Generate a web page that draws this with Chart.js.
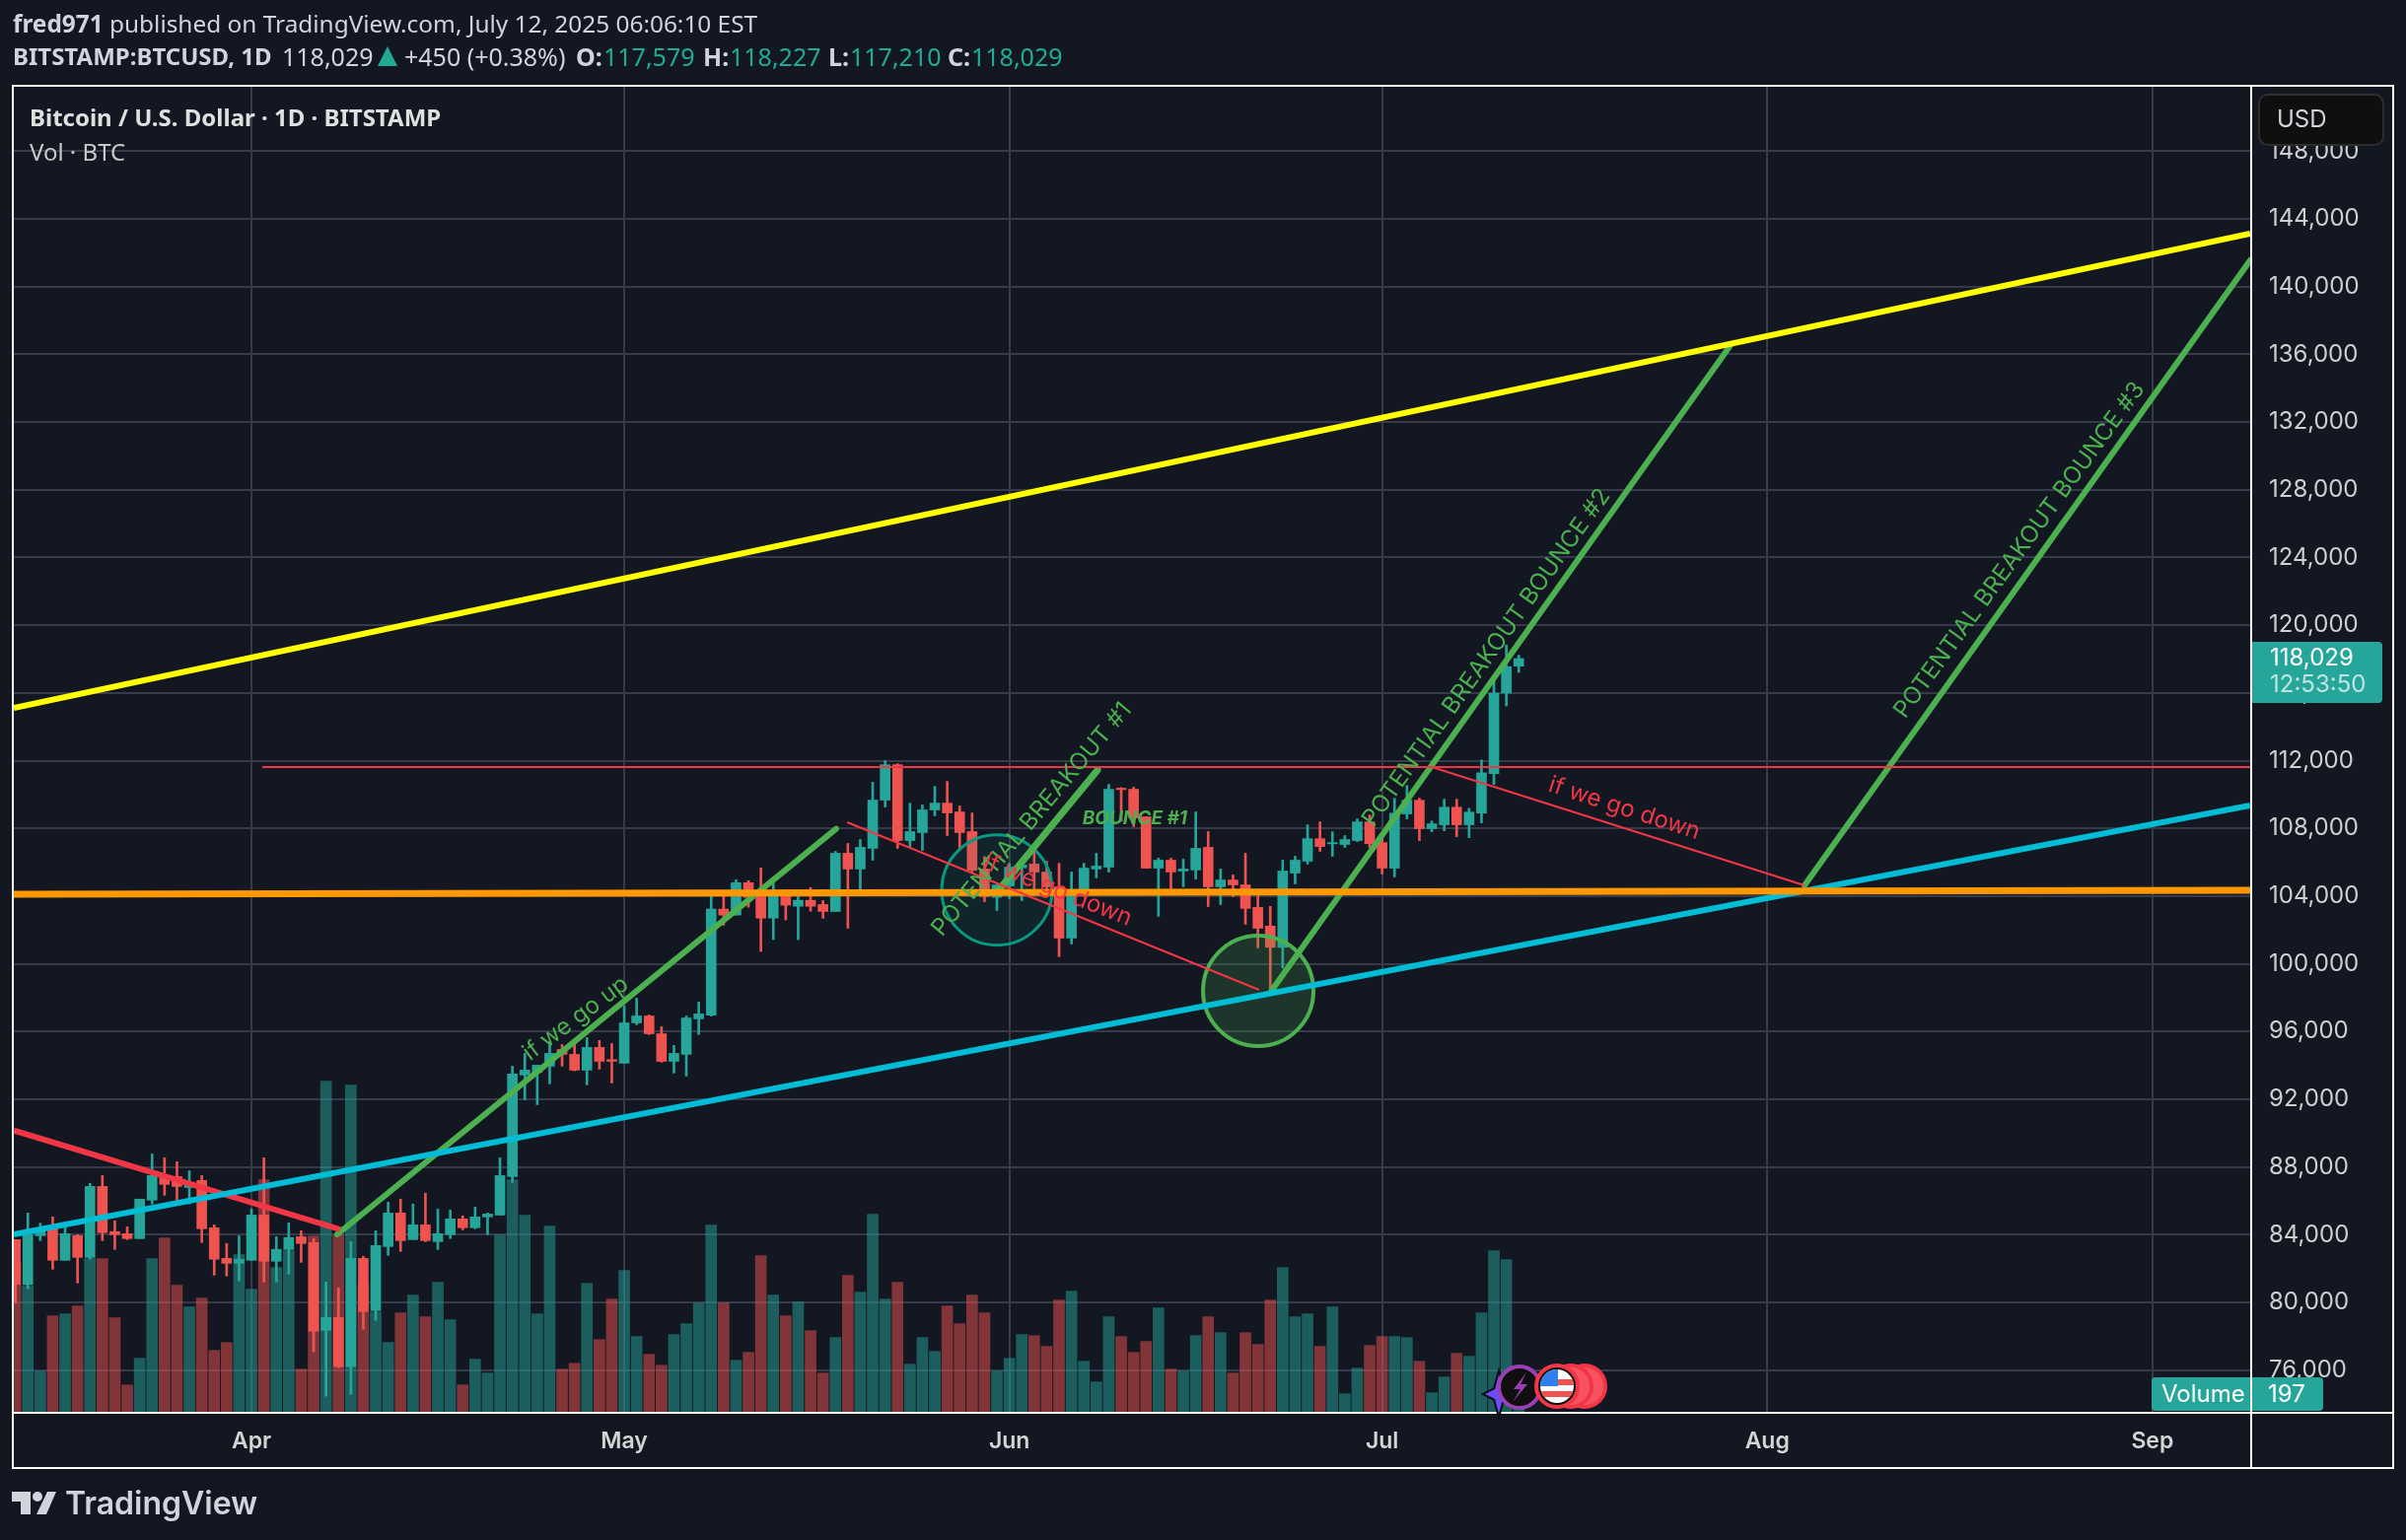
<!DOCTYPE html>
<html>
<head>
<meta charset="utf-8">
<title>BTCUSD</title>
<script src="https://cdn.jsdelivr.net/npm/chart.js@4/dist/chart.umd.min.js"></script>
<style>
  html, body { margin: 0; padding: 0; background: #131722; }
  body { position: relative; width: 2440px; height: 1562px; overflow: hidden; font-family: "Noto Sans", sans-serif; color: #d1d4dc; }
  canvas { position: absolute; left: 0; top: 0; }
  .t { position: absolute; white-space: nowrap; line-height: 1; }
  .b { font-weight: 700; }
  .g { color: #22ab94; }
  .n { font-size: 25px; top: 45px; }
  svg { position: absolute; left: 0; top: 0; }
  .box { position: absolute; box-sizing: border-box; }
  .i { font-family: Inter, sans-serif; }
</style>
</head>
<body>
<canvas id="chart" width="2440" height="1562"></canvas>
<svg width="2440" height="1562" viewBox="0 0 2440 1562">
  <polygon points="1520,1394 1524,1409 1534,1414 1524,1419 1520,1434 1516,1419 1506,1414 1516,1409" fill="#6a4cff" stroke="#0d0d0d" stroke-width="4" paint-order="stroke"/>
  <ellipse cx="1541" cy="1407" rx="21" ry="21" fill="#0f0f0f" stroke="#9c3fb5" stroke-width="4"/>
  <polygon points="1548,1392 1535,1409 1542,1409 1534,1422 1549,1404 1542,1404" fill="#9c3fb5"/>
  <g>
    <circle cx="1607" cy="1406" r="21" fill="#f7525f" stroke="#f23645" stroke-width="4"/>
    <circle cx="1593" cy="1406" r="21" fill="#f7525f" stroke="#f23645" stroke-width="4"/>
    <circle cx="1579" cy="1406" r="21" fill="#0f0f0f" stroke="#f23645" stroke-width="4"/>
    <clipPath id="flag"><circle cx="1579" cy="1406" r="17"/></clipPath>
    <g clip-path="url(#flag)">
      <rect x="1560" y="1388" width="40" height="36" fill="#ffffff"/>
      <rect x="1560" y="1399" width="40" height="6" fill="#ef5350"/>
      <rect x="1560" y="1411" width="40" height="6" fill="#ef5350"/>
      <rect x="1560" y="1388" width="20" height="18" fill="#2f80ed"/>
    </g>
  </g>
  <g fill="#d1d4dc">
    <polygon points="12,1513 31,1513 31,1536 21,1536 21,1523 12,1523"/>
    <circle cx="38" cy="1518" r="5"/>
    <polygon points="48,1513 57,1513 47,1536 37,1536"/>
  </g>
  <polygon points="393,47 403,67 383,67" fill="#22ab94"/>
</svg>

<div class="t" style="left:13px;top:12px;font-size:24.4px"><span class="b">fred971</span> published on TradingView.com, July 12, 2025 06:06:10 EST</div>
<div class="t b" style="left:13px;top:45px;font-size:24px">BITSTAMP:BTCUSD, 1D</div>
<div class="t n" style="left:286px">118,029</div>
<div class="t n" style="left:410px">+450 (+0.38%)</div>
<div class="t n b" style="left:584px">O:</div>
<div class="t n g" style="left:612px">117,579</div>
<div class="t n b" style="left:713px">H:</div>
<div class="t n g" style="left:740px">118,227</div>
<div class="t n b" style="left:840px">L:</div>
<div class="t n g" style="left:862px">117,210</div>
<div class="t n b" style="left:961px">C:</div>
<div class="t n g" style="left:985px">118,029</div>
<div class="t b" style="left:30px;top:107px;font-size:24px;color:#e0e0e0">Bitcoin / U.S. Dollar · 1D · BITSTAMP</div>
<div class="t" style="left:30px;top:142px;font-size:24px;color:#c8c8c8">Vol · BTC</div>

<div class="box" style="left:2290px;top:95px;width:128px;height:53px;background:#0f0f0f;border:2px solid #2e2e2e;border-radius:10px"></div>
<div class="t i" style="left:2309px;top:109px;font-size:24px;color:#d1d4dc">USD</div>

<div class="box" style="left:2284px;top:651px;width:132px;height:62px;background:#26a69a;border-radius:0 4px 4px 0"></div>
<div class="t i" style="left:2302px;top:655px;font-size:24px;color:#ffffff">118,029</div>
<div class="t i" style="left:2302px;top:682px;font-size:24px;color:rgba(255,255,255,.7)">12:53:50</div>

<div class="box" style="left:2182px;top:1397px;width:174px;height:34px;background:#26a69a;border-radius:4px"></div>
<div class="box" style="left:2282px;top:1397px;width:2px;height:34px;background:#ffffff"></div>
<div class="t i" style="left:2192px;top:1402px;font-size:24px;color:#ffffff">Volume</div>
<div class="t i" style="left:2300px;top:1402px;font-size:24px;color:#ffffff">197</div>

<div class="t i" style="left:66px;top:1509px;font-size:32px;font-weight:600;color:#d1d4dc">TradingView</div>

<script>
// Bitcoin daily candles, day 0 = Apr 1 2025
const FIRST_DAY = -19;

const OPEN = [
  83710, 81050, 83940, 84350, 82490, 83940, 82660, 86850, 84180, 84060, 83770, 86040, 87380, 87430, 86790, 87200, 84410, 82600, 82310,
  82490, 85160, 82430, 83130, 83880, 83540, 78350, 79110, 76200, 82600, 79520, 83300, 85280, 83710, 84580, 83590, 84000, 84930, 84410, 85050, 85160,
  87430, 93430, 93580, 93950, 94940, 94650, 93720, 95060, 94340, 94130, 96510, 96920, 95870, 94240, 94650, 96750, 96970, 103230, 102880, 104790,
  104020, 102700, 104210, 103400, 103750, 103500, 103090, 106530, 105600, 106820, 109670, 111760, 107280, 107750, 109090, 109490, 108970, 107810, 105600, 103930,
  104600, 105670, 105890, 105420, 104550, 101520, 104160, 105600, 105710, 110370, 110310, 108680, 105650, 106120, 105480, 105540, 106880, 104550, 104950, 104660,
  103330, 102230, 100970, 105360, 106060, 107390, 107090, 107050, 107280, 108380, 107160, 105650, 108850, 109660, 107980, 108210, 109250, 108210, 108900, 111230, 115990, 117579
];
const HIGH = [
  83710, 85280, 84680, 85050, 84470, 84000, 87030, 87490, 84820, 84470, 86100, 88770, 88540, 88310, 87780, 87490, 84580, 83480, 83940,
  85510, 88540, 83880, 84700, 84230, 83770, 81210, 80860, 83590, 82720, 84230, 85920, 86100, 85810, 86450, 85510, 85460, 85110, 85630, 85280, 88540,
  93950, 94710, 94010, 95430, 95230, 95230, 95640, 95470, 95290, 97520, 97970, 96980, 96280, 95180, 96920, 97740, 104310, 104120, 104970, 104910,
  105660, 104790, 104310, 104120, 104500, 103730, 106640, 107110, 107340, 110720, 112000, 111820, 109490, 109380, 110480, 110770, 109320, 108910, 106330, 104660,
  105940, 105830, 106640, 106060, 105940, 105420, 105940, 106530, 110600, 110410, 110430, 108680, 106240, 106240, 106180, 108970, 107810, 105600, 105250, 106530,
  104020, 103390, 106120, 106350, 108210, 108380, 107800, 107570, 108560, 108790, 107450, 109780, 110530, 109780, 108440, 109720, 109720, 109190, 112040, 116740, 118830, 118227
];
const LOW = [
  79950, 80820, 83650, 81960, 82490, 81150, 82550, 83650, 83130, 83710, 83770, 85810, 86330, 86040, 85810, 83540, 81610, 81560, 81270,
  82490, 81210, 81210, 81670, 82370, 77080, 74460, 76140, 74570, 78410, 78940, 82780, 83010, 83710, 83590, 83130, 83770, 84290, 84350, 84000, 85160,
  87090, 91970, 91680, 92910, 93950, 93680, 92850, 93780, 92960, 94130, 96400, 95820, 94190, 93550, 93370, 95820, 96910, 102280, 102880, 103340,
  100730, 101430, 102590, 101430, 103110, 102690, 103090, 102100, 104310, 106120, 109260, 106820, 106930, 106700, 108740, 107570, 106820, 105420, 103670, 103150,
  103850, 103730, 104260, 103970, 100420, 101170, 104060, 105070, 105420, 108430, 108100, 105650, 102800, 104410, 104550, 105010, 103380, 103500, 103970, 102340,
  100940, 98360, 99750, 104720, 105890, 106640, 106350, 106870, 107220, 106870, 105300, 105130, 108560, 107280, 107800, 107860, 107510, 107450, 108320, 110590, 115230, 117210
];
const CLOSE = [
  81070, 84000, 84270, 82490, 84060, 82660, 86850, 84120, 84000, 83770, 86100, 87490, 86970, 86850, 87090, 84350, 82550, 82310, 82550,
  85160, 82430, 83130, 83830, 83480, 78300, 79110, 76200, 82600, 79460, 83360, 85280, 83650, 84580, 83650, 84060, 84930, 84410, 85050, 85220, 87490,
  93490, 93720, 94010, 94710, 94650, 93720, 95060, 94240, 94240, 96510, 96920, 95870, 94240, 94710, 96800, 97040, 103230, 102880, 104790, 103920,
  102700, 104310, 103460, 103750, 103400, 103090, 106530, 105600, 106880, 109670, 111760, 107280, 107810, 109090, 109490, 108910, 107750, 105520, 103970, 104660,
  105710, 105830, 105420, 104550, 101520, 104310, 105650, 105770, 110310, 110290, 108620, 105650, 106120, 105420, 105600, 106820, 104550, 104950, 104660, 103270,
  102100, 100970, 105480, 106120, 107390, 106930, 107160, 107340, 108380, 107100, 105650, 108900, 109660, 107980, 108270, 109250, 108210, 108960, 111280, 115990, 117550, 118029
];
const VOLUME = [
  2270, 1910, 620, 1460, 1490, 1610, 2330, 2330, 1430, 410, 815, 2330, 2645, 1925, 1595, 1730, 935, 1055, 2390,
  1865, 3530, 2195, 2450, 650, 2675, 5030, 2695, 4970, 1940, 1520, 1055, 1505, 1775, 1445, 1970, 1400, 410, 800, 590, 2690,
  3530, 2990, 1490, 2825, 650, 740, 1955, 1100, 1715, 2150, 1145, 875, 710, 1175, 1340, 1655, 2840, 1655, 785, 905,
  2375, 1775, 1460, 1670, 1235, 590, 1130, 2075, 1820, 3005, 1715, 1970, 725, 1130, 920, 1610, 1340, 1775, 1505, 620,
  815, 1175, 1160, 995, 1700, 1835, 770, 455, 1445, 1145, 905, 1070, 1580, 650, 620, 1160, 1445, 1205, 590, 1205,
  1025, 1700, 2195, 1445, 1490, 995, 1595, 275, 665, 1010, 1145, 1145, 1130, 770, 290, 530, 890, 845, 1505, 2450, 2315, 197
];

const PRICE_TICKS = [76000, 80000, 84000, 88000, 92000, 96000, 100000, 104000, 108000, 112000, 116000, 120000, 124000, 128000, 132000, 136000, 140000, 144000, 148000];
const MONTH_DAYS = [0, 30, 61, 91, 122, 153];
const MONTH_LABELS = ['Apr', 'May', 'Jun', 'Jul', 'Aug', 'Sep'];

// drawings, [day, price]
const YELLOW_LINE = [[-19.13, 115116], [160.87, 143127]];
const CYAN_LINE = [[-19.13, 84019], [160.87, 109351]];
const ORANGE_LINE = [[-19.13, 104110], [160.87, 104343]];
const RED_THICK_LINE = [[-19.13, 90151], [7.14, 84310]];
const RED_LEVEL = [[0.87, 111622], [160.87, 111622]];
const RED_DOWN_1 = [[47.94, 108360], [81.1, 98461]];
const RED_DOWN_2 = [[95, 111622], [125, 104634]];
const GREEN_UP = [[6.9, 84019], [47.06, 107971]];
const GREEN_BREAKOUT_1 = [[59.98, 104209], [68.1, 111447]];
const GREEN_BREAKOUT_2 = [[81.98, 98286], [119.05, 136546]];
const GREEN_BREAKOUT_3 = [[125, 104634], [160.87, 141554]];
const TEAL_CIRCLE = [[60, 104360]];
const GREEN_CIRCLE = [[81.03, 98403]];

const UP = '#26a69a';
const DOWN = '#ef5350';
const UP_VOL = 'rgba(38,166,154,0.5)';
const DOWN_VOL = 'rgba(239,83,80,0.5)';
const GREEN = '#4caf50';
const RED = '#f23645';
const GRID = '#363a4b';
const TICK_FONT = 'Inter, sans-serif';

const days = OPEN.map((_, i) => FIRST_DAY + i);
const candleColors = OPEN.map((o, i) => (CLOSE[i] >= o ? UP : DOWN));
const volumeColors = OPEN.map((o, i) => (CLOSE[i] >= o ? UP_VOL : DOWN_VOL));

function trendLine(points, color, width, cap) {
  return {
    type: 'line',
    data: points.map(([x, y]) => ({ x, y })),
    borderColor: color,
    borderWidth: width,
    borderCapStyle: cap || 'butt',
    pointRadius: 0,
    order: 1
  };
}

function circleMark(points, stroke, fill, width) {
  return {
    type: 'line',
    data: points.map(([x, y]) => ({ x, y })),
    showLine: false,
    pointRadius: 56,
    pointBorderWidth: width,
    pointBorderColor: stroke,
    pointBackgroundColor: fill,
    order: 3
  };
}

const LABELS = [
  { text: 'if we go up', day: 26.1, price: 96772, angle: -36.6, color: GREEN, font: '24px Inter, sans-serif' },
  { text: 'POTENTIAL BREAKOUT #1', day: 62.8, price: 108535, angle: -50, color: GREEN, font: '24px Inter, sans-serif' },
  { text: 'BOUNCE #1', day: 71.1, price: 108594, angle: 0, color: GREEN, font: 'italic 700 19px Inter, sans-serif' },
  { text: 'if we go down', day: 64.9, price: 104343, angle: 21.8, color: RED, font: '24px Inter, sans-serif' },
  { text: 'if we go down', day: 110.5, price: 109176, angle: 17.9, color: RED, font: '24px Inter, sans-serif' },
  { text: 'POTENTIAL BREAKOUT BOUNCE #2', day: 99.4, price: 118086, angle: -54.5, color: GREEN, font: '24px Inter, sans-serif' },
  { text: 'POTENTIAL BREAKOUT BOUNCE #3', day: 142.3, price: 124434, angle: -54, color: GREEN, font: '24px Inter, sans-serif' }
];

const labelsPlugin = {
  id: 'labels',
  afterDatasetsDraw(chart) {
    const { ctx, scales } = chart;
    LABELS.forEach((l) => {
      ctx.save();
      ctx.translate(scales.x.getPixelForValue(l.day), scales.y.getPixelForValue(l.price));
      ctx.rotate((l.angle * Math.PI) / 180);
      ctx.font = l.font;
      ctx.fillStyle = l.color;
      ctx.textAlign = 'center';
      ctx.textBaseline = 'middle';
      ctx.fillText(l.text, 0, 0);
      ctx.restore();
    });
  }
};

const framePlugin = {
  id: 'frame',
  afterDraw(chart) {
    const { ctx, chartArea: a } = chart;
    ctx.save();
    ctx.strokeStyle = '#ffffff';
    ctx.lineWidth = 2;
    ctx.beginPath();
    ctx.rect(a.left - 1, a.top - 1, 2427 - a.left + 1, 1489 - a.top + 1);
    ctx.moveTo(a.left - 1, a.bottom + 1);
    ctx.lineTo(2427, a.bottom + 1);
    ctx.moveTo(a.right + 1, a.top - 1);
    ctx.lineTo(a.right + 1, 1489);
    ctx.stroke();
    ctx.restore();
  }
};

new Chart(document.getElementById('chart'), {
  type: 'bar',
  data: {
    datasets: [
      {
        data: days.map((x, i) => ({ x, y: VOLUME[i] })),
        yAxisID: 'yVol',
        backgroundColor: volumeColors,
        barThickness: 11,
        grouped: false,
        order: 6
      },
      {
        data: days.map((x, i) => ({ x, y: [LOW[i], HIGH[i]] })),
        backgroundColor: candleColors,
        barThickness: 2,
        grouped: false,
        order: 5
      },
      {
        data: days.map((x, i) => ({ x, y: [OPEN[i], CLOSE[i]] })),
        backgroundColor: candleColors,
        barThickness: 10,
        grouped: false,
        order: 4
      },
      circleMark(TEAL_CIRCLE, '#089981', 'rgba(8,153,129,0.1)', 3),
      circleMark(GREEN_CIRCLE, GREEN, 'rgba(76,175,80,0.2)', 4),
      trendLine(YELLOW_LINE, '#ffff00', 6),
      trendLine(RED_DOWN_1, RED, 2),
      trendLine(RED_DOWN_2, RED, 2),
      trendLine(RED_LEVEL, RED, 2),
      trendLine(ORANGE_LINE, '#ff9800', 7),
      trendLine(CYAN_LINE, '#00bcd4', 6),
      trendLine(RED_THICK_LINE, RED, 6),
      trendLine(GREEN_UP, GREEN, 6, 'round'),
      trendLine(GREEN_BREAKOUT_1, GREEN, 7, 'round'),
      trendLine(GREEN_BREAKOUT_2, GREEN, 6, 'round'),
      trendLine(GREEN_BREAKOUT_3, GREEN, 6, 'round')
    ]
  },
  options: {
    responsive: false,
    animation: false,
    devicePixelRatio: 1,
    layout: { autoPadding: false, padding: { left: 14, top: 88, right: 13, bottom: 73 } },
    plugins: { legend: { display: false }, tooltip: { enabled: false } },
    scales: {
      x: {
        type: 'linear',
        offset: false,
        min: -19.13,
        max: 160.87,
        grid: { color: GRID, lineWidth: 2, offset: false, drawTicks: false },
        border: { display: false },
        afterBuildTicks: (s) => {
          s.ticks = MONTH_DAYS.map((value) => ({ value }));
        },
        afterFit: (s) => {
          s.height = 57;
          s.paddingLeft = 0;
          s.paddingRight = 0;
        },
        ticks: {
          autoSkip: false,
          maxRotation: 0,
          padding: 16,
          color: '#d4d4d4',
          font: { family: TICK_FONT, size: 23, weight: '600' },
          callback: (v) => MONTH_LABELS[MONTH_DAYS.indexOf(v)]
        }
      },
      y: {
        position: 'right',
        min: 73537,
        max: 151803,
        grid: { color: GRID, lineWidth: 2, drawTicks: false },
        border: { display: false },
        afterBuildTicks: (s) => {
          s.ticks = PRICE_TICKS.map((value) => ({ value }));
        },
        afterFit: (s) => {
          s.width = 145;
          s.paddingTop = 0;
          s.paddingBottom = 0;
        },
        ticks: {
          autoSkip: false,
          padding: 19,
          color: '#cfcfcf',
          font: { family: TICK_FONT, size: 24 },
          callback: (v) => v.toLocaleString('en-US')
        }
      },
      yVol: { display: false, position: 'right', min: 0, max: 20160 }
    }
  },
  plugins: [labelsPlugin, framePlugin]
});
</script>
</body>
</html>
